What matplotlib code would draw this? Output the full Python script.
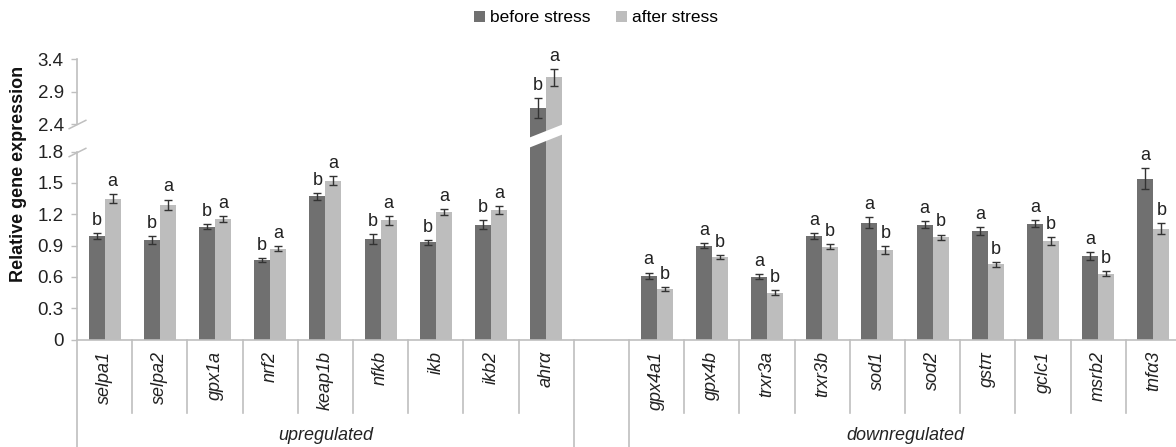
import numpy as np
import matplotlib
matplotlib.use("Agg")
import matplotlib.pyplot as plt
from matplotlib.path import Path
from matplotlib.patches import Polygon
import matplotlib.transforms as mtransforms

plt.rcParams['font.family'] = ['Liberation Sans', 'DejaVu Sans']

# ---------------- data ----------------
up_genes = ['selpa1', 'selpa2', 'gpx1a', 'nrf2', 'keap1b', 'nfkb', 'ikb', 'ikb2', 'ahrα']
up_before = [0.99, 0.95, 1.08, 0.76, 1.37, 0.96, 0.93, 1.10, 2.65]
up_before_err = [0.03, 0.038, 0.024, 0.022, 0.03, 0.05, 0.022, 0.045, 0.15]
up_after = [1.35, 1.29, 1.15, 0.87, 1.52, 1.14, 1.22, 1.24, 3.12]
up_after_err = [0.04, 0.05, 0.028, 0.022, 0.045, 0.044, 0.03, 0.04, 0.13]
up_letters_before = ['b'] * 9
up_letters_after = ['a'] * 9

down_genes = ['gpx4a1', 'gpx4b', 'trxr3a', 'trxr3b', 'sod1', 'sod2', 'gstπ', 'gclc1', 'msrb2', 'tnfα3']
down_before = [0.61, 0.90, 0.60, 0.99, 1.12, 1.10, 1.04, 1.11, 0.80, 1.54]
down_before_err = [0.03, 0.025, 0.025, 0.025, 0.05, 0.03, 0.037, 0.037, 0.037, 0.10]
down_after = [0.48, 0.79, 0.45, 0.89, 0.86, 0.98, 0.72, 0.94, 0.63, 1.06]
down_after_err = [0.02, 0.02, 0.02, 0.027, 0.037, 0.025, 0.022, 0.037, 0.022, 0.053]
down_letters_before = ['a'] * 10
down_letters_after = ['b'] * 10

group_names = ['upregulated', '', 'downregulated']
series_names = ['before stress', 'after stress']
yticks = [0, 0.3, 0.6, 0.9, 1.2, 1.5, 1.8, 2.4, 2.9, 3.4]
break_low, break_high = 1.8, 2.4

# ---------------- broken scale ----------------
G = 0.4387   # compression in break gap
U = 0.6226   # compression of upper part
S24 = break_low + (break_high - break_low) * G

def fwd(v):
    v = np.asarray(v, float)
    return np.where(v <= break_low, v,
                    np.where(v <= break_high, break_low + (v - break_low) * G,
                             S24 + (v - break_high) * U))

def inv(s):
    s = np.asarray(s, float)
    return np.where(s <= break_low, s,
                    np.where(s <= S24, break_low + (s - break_low) / G,
                             break_high + (s - S24) / U))

W, H = 1176, 447
fig = plt.figure(figsize=(W / 100, H / 100), dpi=100)
x0_px, x1_px, y0_px, y1_px = 77, 1181, 339.5, 59
ax = fig.add_axes([x0_px / W, (H - y0_px) / H, (x1_px - x0_px) / W, (y0_px - y1_px) / H])
ax.set_yscale('function', functions=(fwd, inv))
ax.set_ylim(0, 3.4)

dark = '#707070'
light = '#bdbdbd'
grid_grey = '#bfbfbf'

genes = up_genes + [''] + down_genes
before = up_before + [np.nan] + down_before
before_err = up_before_err + [np.nan] + down_before_err
after = up_after + [np.nan] + down_after
after_err = up_after_err + [np.nan] + down_after_err
let_b = up_letters_before + [''] + down_letters_before
let_a = up_letters_after + [''] + down_letters_after

n = len(genes)
centers = np.arange(n) + 0.5
bw = 0.29
ax.set_xlim(0, n)

b1 = ax.bar(centers - bw / 2, before, bw, color=dark, label=series_names[0], zorder=2)
b2 = ax.bar(centers + bw / 2, after, bw, color=light, label=series_names[1], zorder=2)
ax.errorbar(centers - bw / 2, before, yerr=before_err, fmt='none', ecolor='#333333',
            elinewidth=1, capsize=3, capthick=1, zorder=3)
ax.errorbar(centers + bw / 2, after, yerr=after_err, fmt='none', ecolor='#333333',
            elinewidth=1, capsize=3, capthick=1, zorder=3)

for i in range(n):
    if genes[i] == '':
        continue
    ax.annotate(let_b[i], (centers[i] - bw / 2, before[i] + before_err[i]), xytext=(0, 3),
                textcoords='offset points', ha='center', va='bottom', fontsize=13,
                color='#222222', annotation_clip=False)
    ax.annotate(let_a[i], (centers[i] + bw / 2, after[i] + after_err[i]), xytext=(0, 3),
                textcoords='offset points', ha='center', va='bottom', fontsize=13,
                color='#222222', annotation_clip=False)

# break band over the bars that cross the gap
for i in range(n):
    if genes[i] and after[i] > break_high:
        xl = centers[i] - bw - 0.03
        xr = centers[i] + bw + 0.03
        lo_l, lo_r, thick = 1.834, 1.968, 0.096
        verts = [(xl, float(inv(lo_l))), (xr, float(inv(lo_r))),
                 (xr, float(inv(lo_r + thick))), (xl, float(inv(lo_l + thick)))]
        ax.add_patch(Polygon(verts, closed=True, facecolor='white', edgecolor='none', zorder=4))

# spines
for s in ['top', 'right', 'left']:
    ax.spines[s].set_visible(False)
ax.spines['bottom'].set_color(grid_grey)
ax.spines['bottom'].set_linewidth(1.2)
ax.plot([0, 0], [0, break_low], color=grid_grey, lw=1.2, clip_on=False, zorder=5)
ax.plot([0, 0], [break_high, 3.4], color=grid_grey, lw=1.2, clip_on=False, zorder=5)
slash = Path([(-1, -0.5), (1, 0.5)], [Path.MOVETO, Path.LINETO])
ax.plot([0, 0], [break_low, break_high], linestyle='none', marker=slash, markersize=13,
        markeredgecolor=grid_grey, markeredgewidth=1.1, clip_on=False, zorder=5)

ax.set_yticks(yticks)
ax.set_yticklabels([('%g' % t) for t in yticks])
ax.tick_params(axis='y', direction='out', length=4.5, width=1, color=grid_grey,
               labelsize=13.5, labelcolor='#222222', pad=5)
ax.tick_params(axis='x', bottom=False, labelbottom=False)
ax.minorticks_off()

# category separators & labels
axh_px = y0_px - y1_px
short = -(413 - y0_px) / axh_px
long_ = -(H - y0_px + 5) / axh_px
trans = mtransforms.blended_transform_factory(ax.transData, ax.transAxes)
group_bounds = [0, len(up_genes), len(up_genes) + 1, n]
for k in range(n + 1):
    ylow = long_ if k in group_bounds else short
    ax.plot([k, k], [0, ylow], transform=trans, color=grid_grey, lw=1.2, clip_on=False)
for i, g in enumerate(genes):
    if g:
        ax.text(centers[i], -(351 - y0_px) / axh_px, g, transform=trans, rotation=90,
                ha='center', va='top', fontsize=13, style='italic', color='#222222')
for gi, name in enumerate(group_names):
    if name:
        xc = (group_bounds[gi] + group_bounds[gi + 1]) / 2
        ax.text(xc, -(436 - y0_px) / axh_px, name, transform=trans, ha='center', va='center',
                fontsize=13, style='italic', color='#222222')

fig.text(19 / W, 1 - 174 / H, 'Relative gene expression', rotation=90, ha='center',
         va='center', fontsize=13, fontweight='bold', color='#111111')

fig.legend(handles=[b1, b2], loc='center', bbox_to_anchor=(596 / W, 1 - 18 / H), ncol=2,
           frameon=False, fontsize=12.5, handlelength=0.6, handleheight=0.6,
           handletextpad=0.3, columnspacing=1.5, borderpad=0)

fig.savefig('out.png', dpi=100)
